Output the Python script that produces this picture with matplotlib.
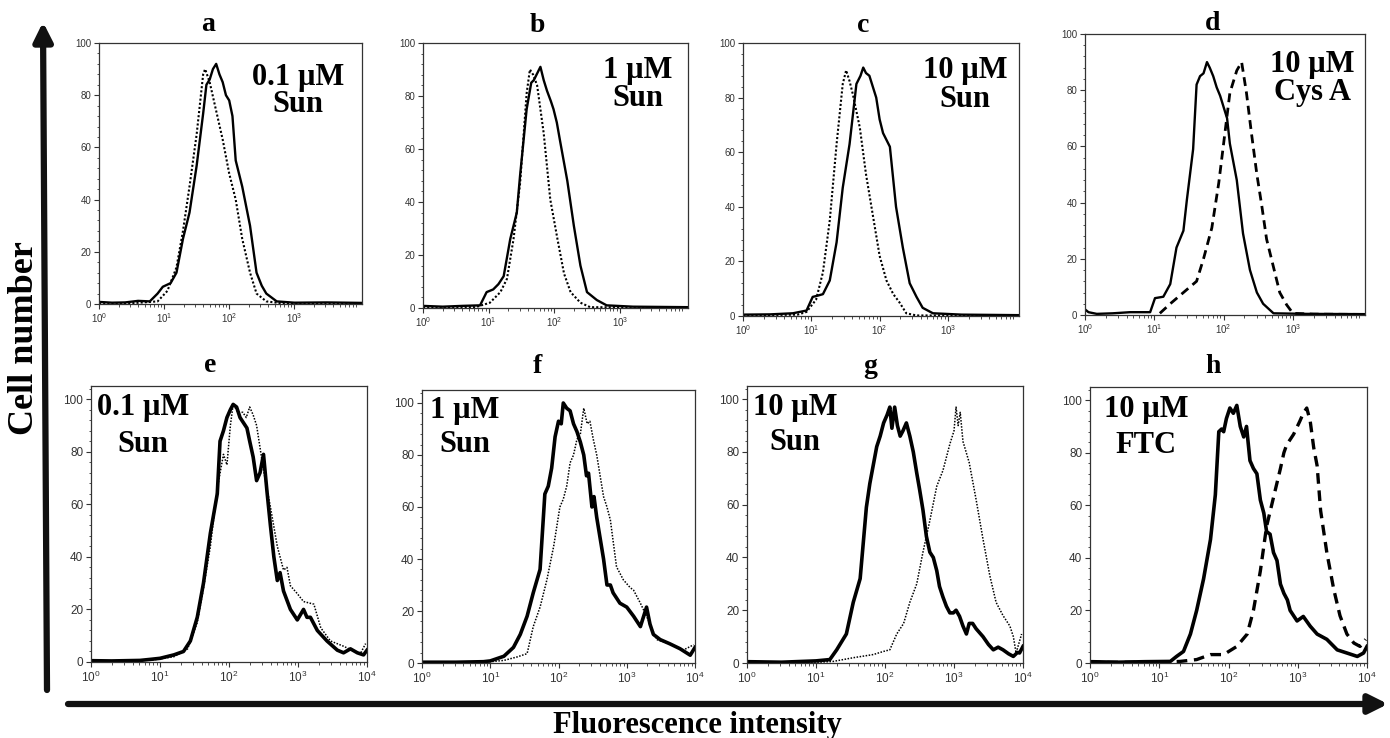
import numpy as np
import matplotlib
matplotlib.use("Agg")
import matplotlib.pyplot as plt
from matplotlib.ticker import AutoMinorLocator, LogLocator, FixedLocator, NullFormatter, LogFormatterSciNotation

plt.rcParams["font.family"] = ["Liberation Sans", "DejaVu Sans"]
plt.rcParams["mathtext.fontset"] = "custom"
plt.rcParams["mathtext.rm"] = "Liberation Sans"
plt.rcParams["mathtext.default"] = "regular"

W, H = 1390, 738
SERIF = ["Liberation Serif", "DejaVu Serif"]

# (log10 fluorescence, cell number)
a_solid = [(0, 0.8), (0.2, 0.5), (0.4, 0.6), (0.6, 1.2), (0.78, 1), (0.9, 4), (0.98, 6.6), (1.1, 8), (1.19, 12),
           (1.29, 25), (1.39, 35), (1.5, 53), (1.6, 73), (1.65, 84), (1.7, 86), (1.75, 90), (1.8, 92), (1.85, 88),
           (1.9, 85), (1.95, 80), (2.0, 78), (2.05, 72), (2.1, 55), (2.15, 50), (2.2, 45), (2.32, 30), (2.42, 12),
           (2.5, 7), (2.57, 4), (2.73, 1), (3.0, 0.5), (3.5, 0.6), (4.1, 0.4)]
a_dot = [(0, 0.3), (0.5, 0.3), (0.9, 1), (1.05, 5), (1.19, 14), (1.29, 28), (1.39, 45), (1.5, 65), (1.6, 88),
         (1.63, 90), (1.7, 85), (1.8, 74), (1.9, 63), (2.0, 50), (2.1, 40), (2.2, 25), (2.32, 12), (2.42, 4),
         (2.57, 1), (2.8, 0.3), (4.1, 0.2)]
b_solid = [(0, 0.8), (0.3, 0.5), (0.6, 0.8), (0.87, 1), (0.97, 6), (1.07, 7), (1.15, 9), (1.23, 12), (1.33, 26),
           (1.43, 36), (1.48, 50), (1.58, 75), (1.65, 85), (1.69, 86), (1.75, 89), (1.79, 91), (1.84, 86), (1.89, 82),
           (1.95, 78), (1.99, 75), (2.04, 70), (2.09, 63), (2.2, 48), (2.3, 31), (2.4, 16), (2.5, 6), (2.65, 3),
           (2.8, 1), (3.2, 0.5), (4.1, 0.3)]
b_dot = [(0, 0.2), (0.8, 0.3), (1.02, 2), (1.18, 6), (1.28, 11), (1.38, 26), (1.48, 47), (1.58, 81), (1.63, 90),
         (1.68, 88), (1.74, 84), (1.84, 66), (1.94, 41), (2.05, 26), (2.15, 13), (2.25, 6), (2.4, 2), (2.55, 0.3),
         (4.1, 0.2)]
c_solid = [(0, 0.5), (0.4, 0.6), (0.73, 1), (0.93, 2), (1.02, 7), (1.1, 7.5), (1.17, 8), (1.27, 13), (1.37, 27),
           (1.46, 47), (1.56, 63), (1.66, 85), (1.72, 88), (1.76, 91), (1.8, 89), (1.85, 88), (1.95, 80), (2.0, 72),
           (2.05, 67), (2.15, 62), (2.24, 40), (2.34, 25), (2.44, 12), (2.54, 7), (2.63, 3), (2.78, 1), (3.2, 0.5),
           (4.1, 0.3)]
c_dot = [(0, 0.2), (0.8, 0.5), (0.93, 1.5), (1.07, 6), (1.17, 16), (1.27, 35), (1.37, 63), (1.46, 85), (1.51, 90),
         (1.56, 86), (1.61, 81), (1.71, 69), (1.8, 52), (1.9, 37), (2.0, 22), (2.1, 13), (2.2, 8), (2.29, 5),
         (2.39, 1), (2.54, 0.2), (4.1, 0.2)]
d_solid = [(0, 2), (0.05, 1), (0.17, 0.4), (0.4, 0.6), (0.65, 1), (0.94, 1), (1.01, 6), (1.13, 6.5), (1.23, 11),
           (1.32, 24), (1.42, 30), (1.47, 41), (1.56, 59), (1.61, 82), (1.66, 85), (1.71, 86), (1.76, 90), (1.8, 88),
           (1.85, 85), (1.9, 81), (1.95, 78), (2.0, 74), (2.05, 70), (2.09, 61), (2.19, 48), (2.28, 29), (2.38, 16),
           (2.48, 8), (2.57, 4), (2.72, 0.6), (3.2, 0.4), (4.1, 0.3)]
d_dash = [(1.08, 0.6), (1.23, 4), (1.42, 8), (1.61, 12), (1.71, 20), (1.83, 31), (1.93, 47), (2.02, 65), (2.09, 79),
          (2.19, 87), (2.26, 90), (2.33, 79), (2.4, 65), (2.48, 50), (2.55, 39), (2.62, 27), (2.72, 17), (2.81, 8),
          (2.91, 3.6), (3.0, 0.6), (3.3, 0.3), (4.1, 0.2)]
e_solid = [(0, 0.5), (0.3, 0.4), (0.71, 0.6), (0.86, 1), (1.0, 1.4), (1.2, 2.7), (1.34, 4), (1.44, 8), (1.54, 17),
           (1.63, 30), (1.73, 49), (1.83, 64), (1.87, 84), (1.92, 88), (1.97, 93), (2.02, 96), (2.06, 98), (2.11, 97),
           (2.16, 93), (2.21, 91), (2.26, 89), (2.3, 84), (2.35, 78), (2.4, 69), (2.45, 72), (2.5, 79), (2.55, 65),
           (2.6, 52), (2.65, 40), (2.7, 31), (2.74, 34), (2.79, 27), (2.89, 20), (2.99, 16), (3.08, 20), (3.13, 17),
           (3.18, 17), (3.28, 12), (3.42, 8), (3.57, 4.5), (3.66, 3.5), (3.76, 5), (3.86, 3.5), (3.95, 2.7), (4.0, 4.5)]
e_dot = [(0, 0.3), (0.9, 0.8), (1.2, 2), (1.4, 5), (1.54, 15), (1.63, 28), (1.73, 44), (1.83, 66), (1.92, 79),
         (1.97, 75), (2.02, 90), (2.06, 98), (2.13, 95), (2.2, 95), (2.25, 93), (2.3, 97), (2.35, 94), (2.4, 90),
         (2.5, 73), (2.6, 59), (2.7, 44), (2.79, 35), (2.84, 36), (2.89, 29), (2.99, 26), (3.08, 23), (3.23, 22),
         (3.33, 13), (3.47, 8), (3.66, 6), (3.9, 3), (3.98, 7)]
f_solid = [(0, 0.3), (0.5, 0.3), (0.9, 0.5), (1.0, 0.8), (1.2, 2.6), (1.34, 6), (1.44, 11), (1.54, 18), (1.63, 27),
           (1.73, 36), (1.8, 65), (1.85, 68), (1.9, 75), (1.95, 87), (2.0, 93), (2.04, 92), (2.07, 100), (2.12, 98),
           (2.17, 97), (2.22, 92), (2.27, 89), (2.32, 85), (2.37, 80), (2.41, 72), (2.44, 73), (2.49, 60), (2.52, 64),
           (2.56, 56), (2.61, 48), (2.66, 40), (2.71, 30), (2.76, 30), (2.8, 27), (2.9, 23), (3.0, 21.5), (3.1, 18),
           (3.15, 16), (3.2, 14), (3.29, 21.5), (3.34, 15), (3.39, 11), (3.49, 9), (3.63, 7.4), (3.78, 5.5),
           (3.93, 3), (4.0, 6)]
f_dot = [(0, 0.2), (1.0, 0.5), (1.2, 1), (1.39, 2.3), (1.54, 3.6), (1.63, 14), (1.73, 21.5), (1.83, 32), (1.93, 45),
         (2.02, 60), (2.07, 63), (2.12, 68), (2.17, 77), (2.22, 80), (2.27, 86), (2.32, 88), (2.37, 98), (2.42, 92),
         (2.46, 93), (2.51, 86), (2.56, 80), (2.61, 72), (2.66, 64), (2.71, 60), (2.76, 55), (2.85, 37), (2.95, 32),
         (3.05, 29), (3.1, 28), (3.2, 23), (3.29, 18), (3.44, 9), (3.63, 7.4), (3.83, 5), (3.98, 7)]
g_solid = [(0, 0.5), (0.5, 0.3), (1.0, 0.8), (1.2, 1.3), (1.3, 5), (1.44, 11), (1.54, 23), (1.64, 32), (1.73, 59),
           (1.78, 68), (1.83, 75), (1.88, 82), (1.93, 86), (1.98, 91), (2.03, 94), (2.07, 97), (2.1, 89), (2.14, 97),
           (2.18, 90), (2.22, 86), (2.26, 88), (2.31, 91), (2.36, 86), (2.41, 80), (2.46, 72), (2.5, 66), (2.55, 58),
           (2.6, 48), (2.65, 42), (2.7, 40), (2.75, 35), (2.79, 29), (2.84, 25), (2.89, 21.5), (2.94, 19), (2.99, 19),
           (3.03, 20), (3.08, 17.7), (3.13, 14), (3.18, 11), (3.22, 15), (3.27, 15), (3.32, 13), (3.42, 10),
           (3.5, 7), (3.57, 5), (3.64, 6), (3.71, 5), (3.79, 3.5), (3.86, 2.5), (3.92, 4), (3.95, 3.8), (4.0, 6.3)]
g_dot = [(0, 0.2), (0.96, 0.2), (1.25, 0.6), (1.54, 2), (1.83, 3.2), (1.98, 4.4), (2.07, 5), (2.17, 11), (2.27, 15),
         (2.36, 23), (2.46, 30), (2.55, 42), (2.65, 54), (2.75, 67), (2.84, 73), (2.94, 83), (3.0, 88), (3.03, 97),
         (3.06, 90), (3.09, 95), (3.13, 84), (3.22, 76), (3.32, 62), (3.42, 47), (3.52, 33), (3.61, 23), (3.71, 18),
         (3.81, 14), (3.86, 10), (3.9, 3.8), (3.98, 11)]
h_solid = [(0, 0.5), (0.4, 0.3), (0.8, 0.5), (1.16, 0.6), (1.25, 2.5), (1.35, 4.4), (1.45, 11), (1.54, 20),
           (1.64, 32), (1.74, 47), (1.81, 64), (1.86, 88), (1.9, 89), (1.93, 88), (1.97, 93), (2.02, 97), (2.07, 95),
           (2.12, 98), (2.17, 90), (2.22, 86), (2.26, 90), (2.31, 77), (2.36, 74), (2.41, 72), (2.46, 62), (2.51, 57),
           (2.55, 50), (2.6, 49), (2.65, 42), (2.7, 39), (2.75, 30), (2.8, 26.5), (2.85, 24), (2.89, 20), (2.99, 16),
           (3.08, 17.7), (3.18, 14), (3.28, 11), (3.42, 9), (3.57, 5), (3.71, 3.8), (3.86, 2.5), (3.95, 3.8),
           (4.0, 6.3)]
h_dash = [(0, 0.2), (1.0, 0.3), (1.3, 0.6), (1.54, 1.3), (1.74, 3.2), (1.93, 3.2), (2.12, 6.3), (2.27, 11),
          (2.36, 20), (2.46, 35), (2.55, 52), (2.65, 63), (2.75, 74), (2.8, 80), (2.84, 83), (2.94, 87), (3.03, 92),
          (3.08, 95), (3.13, 97), (3.18, 92), (3.23, 82), (3.28, 75), (3.33, 58), (3.42, 42), (3.52, 28), (3.61, 18),
          (3.71, 11), (3.81, 7.6), (3.9, 6.3), (3.98, 9)]

letters = ["a", "b", "c", "d", "e", "f", "g", "h"]
dose_lines = ["0.1 µM", "1 µM", "10 µM", "10 µM", "0.1 µM", "1 µM", "10 µM", "10 µM"]
drug_lines = ["Sun", "Sun", "Sun", "Cys A", "Sun", "Sun", "Sun", "FTC"]
solids = [a_solid, b_solid, c_solid, d_solid, e_solid, f_solid, g_solid, h_solid]
others = [a_dot, b_dot, c_dot, d_dash, e_dot, f_dot, g_dot, h_dash]
other_style = ["dot", "dot", "dot", "dash", "dot", "dot", "dot", "dash"]

# layout in pixels: axes box (left, right, top, bottom), letter (x, baseline), label centre x and baselines
boxes = [(99, 362, 43, 304), (423, 688, 43, 308), (743, 1019, 43, 316), (1085, 1365, 34, 315),
         (91, 367, 386, 662), (422, 695, 390, 663), (747, 1023, 386, 663), (1090, 1367, 387, 663)]
letter_pos = [(208, 31), (537, 32), (863, 32), (1213, 30), (210, 372), (537, 373), (870, 373), (1213, 373)]
label_pos = [(298, 85, 112), (638, 78, 106), (965, 78, 107), (1312, 72, 100),
             (143, 415, 452), (465, 418, 452), (795, 415, 450), (1146, 417, 453)]

fig = plt.figure(figsize=(W / 100, H / 100), dpi=100)


def px(x, y):
    return x / W, 1 - y / H


def ptext(x, y, s, **kw):
    fig.text(*px(x, y), s, family=SERIF, weight="bold", ha="center", va="baseline", **kw)


# background layer for the big arrows (pixel coordinates)
bg = fig.add_axes([0, 0, 1, 1])
bg.set_xlim(0, W); bg.set_ylim(H, 0); bg.axis("off")
bg.annotate("", xy=(1388, 704), xytext=(68, 704),
            arrowprops=dict(arrowstyle="-|>", lw=4.5, color="#111", mutation_scale=28, shrinkA=0, shrinkB=0))
bg.annotate("", xy=(43, 22), xytext=(47, 690),
            arrowprops=dict(arrowstyle="-|>", lw=4.5, color="#111", mutation_scale=28, shrinkA=0, shrinkB=0))
ptext(697, 733, "Fluorescence intensity", fontsize=22)
fig.text(*px(33, 338), "Cell number", family=SERIF, weight="bold", fontsize=26,
         ha="center", va="baseline", rotation=90, rotation_mode="anchor")

for i in range(8):
    l, r, t, b = boxes[i]
    ax = fig.add_axes([l / W, 1 - b / H, (r - l) / W, (b - t) / H])
    top = i < 4
    xs, ys = np.array(solids[i]).T
    ax.plot(10 ** xs, ys, color="black", lw=1.7 if top else 2.6)
    xo, yo = np.array(others[i]).T
    if other_style[i] == "dot":
        ax.plot(10 ** xo, yo, color="black", lw=1.5 if top else 1.1, dashes=(1, 1))
    else:
        ax.plot(10 ** xo, yo, color="black", lw=2.0 if top else 2.4, dashes=(3.2, 2))
    ax.set_xscale("log")
    if top:
        ax.set_xlim(1, 10 ** 4.04)
        ax.set_ylim(0, 100)
        ax.xaxis.set_major_locator(FixedLocator([1, 10, 100, 1000]))
    else:
        ax.set_xlim(1, 1e4)
        ax.set_ylim(0, 105)
        ax.xaxis.set_major_locator(FixedLocator([1, 10, 100, 1000, 10000]))
    ax.xaxis.set_major_formatter(LogFormatterSciNotation())
    ax.xaxis.set_minor_locator(LogLocator(base=10, subs=np.arange(2, 10)))
    ax.xaxis.set_minor_formatter(NullFormatter())
    ax.set_yticks([0, 20, 40, 60, 80, 100])
    ax.yaxis.set_minor_locator(AutoMinorLocator(5))
    fs = 7 if top else 8.5
    ax.tick_params(which="major", direction="out", length=3.5, width=0.8, color="#333",
                   labelsize=fs, labelcolor="#333", pad=2)
    ax.tick_params(which="minor", direction="out", length=1.8, width=0.6, color="#333")
    for sp in ax.spines.values():
        sp.set_color("#333")
        sp.set_linewidth(0.9)

    lx, ly = letter_pos[i]
    ptext(lx, ly, letters[i], fontsize=20)
    cx, y1, y2 = label_pos[i]
    ptext(cx, y1, dose_lines[i], fontsize=22)
    ptext(cx, y2, drug_lines[i], fontsize=22)

fig.savefig("out.png", dpi=100)
